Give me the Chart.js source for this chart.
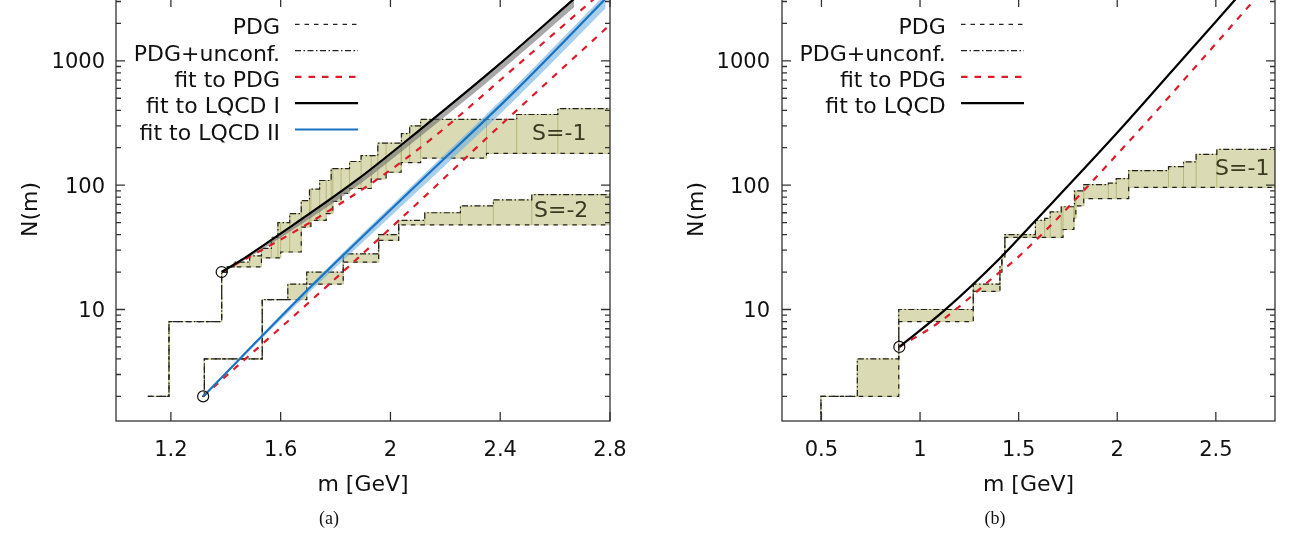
<!DOCTYPE html>
<html>
<head>
<meta charset="utf-8">
<title>N(m)</title>
<script src="https://cdn.jsdelivr.net/npm/chart.js@4.4.1/dist/chart.umd.min.js"></script>
<style>
  html, body { margin: 0; padding: 0; background: #fff; }
  body { position: relative; width: 1295px; height: 535px; overflow: hidden; }
  .panel { position: absolute; top: -27px; height: 562px; }
  #panelA { left: 0; width: 645px; }
  #panelB { left: 645px; width: 650px; }
  .caption { position: absolute; top: 508px; width: 60px; margin-left: -30px; text-align: center;
             font: 18px/20px "Liberation Serif", "DejaVu Serif", serif; color: #111; }
</style>
</head>
<body>
<div class="panel" id="panelA"><canvas id="chartA"></canvas></div>
<div class="panel" id="panelB"><canvas id="chartB"></canvas></div>
<div class="caption" style="left:329px">(a)</div>
<div class="caption" style="left:995px">(b)</div>
<script>
// values: mass [GeV] where the count steps up, and N(m) after the step

// (a) S=-1
const aS1PdgM = [1.116, 1.193, 1.385, 1.405, 1.53, 1.60, 1.675, 1.71, 1.766, 1.79, 1.82, 1.851, 1.93, 1.984, 2.039, 2.11, 2.35];
const aS1PdgN = [2, 8, 20, 22, 26, 29, 46, 52, 59, 74, 86, 94, 112, 127, 152, 165, 180];
const aS1AllM = [1.116, 1.193, 1.385, 1.405, 1.43, 1.487, 1.53, 1.566, 1.59, 1.633, 1.675, 1.705, 1.742, 1.784, 1.851, 1.893, 1.954, 2.04, 2.07, 2.11, 2.46, 2.61];
const aS1AllN = [2, 8, 20, 22, 24, 27, 31, 38, 50, 59, 75, 93, 109, 136, 155, 173, 218, 260, 300, 338, 370, 412];
// (a) S=-2
const aS2PdgM = [1.315, 1.322, 1.533, 1.695, 1.828, 1.957, 2.03];
const aS2PdgN = [2, 4, 12, 16, 24, 36, 48];
const aS2AllM = [1.315, 1.322, 1.533, 1.626, 1.695, 1.828, 1.957, 2.03, 2.125, 2.255, 2.375, 2.515];
const aS2AllN = [2, 4, 12, 16, 20, 28, 40, 52, 60, 68, 76, 84];

// (a) fits
const aFitS1M = [1.385, 1.669, 1.948, 2.154, 2.457, 2.742];
const aFitS1N = [20, 44.7, 110, 240, 900, 3150];
const aFitS2M = [1.3175, 1.766, 2.136, 2.348, 2.8];
const aFitS2N = [2, 15.2, 85.5, 236, 1950];
const aLqcd1M = [1.385, 1.475, 1.572, 1.875, 2.105, 2.384, 2.669];
const aLqcd1N = [20, 26.5, 37, 109, 276, 889, 3150];
const aLqcd1Lo = [20, 25.5, 34.5, 97, 243, 770, 2700];
const aLqcd1Hi = [20, 26.7, 37.4, 110, 279, 900, 3190];
const aLqcd2M = [1.3175, 1.693, 2.118, 2.45, 2.784];
const aLqcd2N = [2, 14, 112, 560, 3150];
const aLqcd2Lo = [2, 13, 98, 480, 2650];
const aLqcd2Hi = [2, 14.6, 120, 610, 3450];
const aStartM = [1.385, 1.3175];
const aStartN = [20, 2];

// (b) S=-1
const bPdgM = [0.4937, 0.4976, 0.892, 1.27, 1.405, 1.415, 1.43, 1.725, 1.78, 1.79, 1.83, 2.058];
const bPdgN = [1, 2, 8, 14, 20, 26, 38, 44, 54, 68, 78, 96];
const bAllM = [0.4937, 0.4976, 0.682, 0.892, 1.27, 1.405, 1.415, 1.43, 1.585, 1.632, 1.66, 1.716, 1.783, 1.83, 1.955, 1.995, 2.058, 2.26, 2.336, 2.40, 2.505];
const bAllN = [1, 2, 4, 10, 16, 22, 28, 40, 52, 54, 61, 67, 90, 101, 104, 113, 131, 141, 154, 177, 194];
const bFitM = [0.895, 1.10, 1.404, 1.49, 2.095, 2.398, 2.70];
const bFitN = [5, 7.95, 20, 25.7, 259, 900, 3150];
const bLqcdM = [0.895, 1.125, 1.404, 1.581, 1.995, 2.298, 2.602];
const bLqcdN = [5, 9.87, 25.7, 51, 259, 900, 3150];
const bStartM = [0.895];
const bStartN = [5];

// axes
const aXTicks = [1.2, 1.6, 2, 2.4, 2.8];
const bXTicks = [0.5, 1, 1.5, 2, 2.5];
const yTicks = [10, 100, 1000];

const FONT = 'DejaVu Sans';
const BAND = '#dadab4';
const RED = '#dd1c2a';
const BLUE = '#1a73c0';

function pts(ms, ns) {
    return ms.map((m, i) => ({ x: m, y: ns[i] }));
}

// corner points of a cumulative step curve, held flat to the end of the axis
function stepCorners(ms, ns, xEnd) {
    const out = [];
    ms.forEach((m, i) => {
        if (i > 0) out.push({ x: m, y: ns[i - 1] });
        out.push({ x: m, y: ns[i] });
    });
    out.push({ x: xEnd, y: ns[ns.length - 1] });
    return out;
}

function stepAt(ms, ns, x) {
    let v = ns[0];
    ms.forEach((m, i) => { if (m <= x) v = ns[i]; });
    return v;
}

function stepDatasets(loM, loN, hiM, hiN, xEnd) {
    const shape = stepCorners(hiM, hiN, xEnd).concat(stepCorners(loM, loN, xEnd).reverse());
    const xs = Array.from(new Set(loM.concat(hiM))).sort((a, b) => a - b);
    const seps = [];
    xs.forEach(x => {
        const lo = stepAt(loM, loN, x), hi = stepAt(hiM, hiN, x);
        if (hi > lo) seps.push({ x: x, y: lo }, { x: x, y: hi }, { x: x, y: null });
    });
    return [
        { label: 'band', data: shape, fill: 'shape', backgroundColor: BAND, borderColor: '#cbcb94',
          borderWidth: 1, pointRadius: 0, tension: 0, order: 30 },
        { label: 'sep', data: seps, borderColor: 'rgba(175,175,110,0.8)', borderWidth: 1,
          pointRadius: 0, spanGaps: false, order: 29 },
        { label: 'PDG', data: stepCorners(loM, loN, xEnd), borderColor: '#222', borderWidth: 1.2,
          borderDash: [4.5, 5], pointRadius: 0, order: 20 },
        { label: 'PDG+unconf.', data: stepCorners(hiM, hiN, xEnd), borderColor: '#222', borderWidth: 1.2,
          borderDash: [6, 2.5, 1.5, 2.5], pointRadius: 0, order: 19 }
    ];
}

function fitBand(ms, lo, hi, color) {
    return [
        { label: 'hi', data: pts(ms, hi), borderWidth: 0, pointRadius: 0, fill: false,
          cubicInterpolationMode: 'monotone', order: 12 },
        { label: 'lo', data: pts(ms, lo), borderWidth: 0, pointRadius: 0, fill: '-1',
          backgroundColor: color, cubicInterpolationMode: 'monotone', order: 12 }
    ];
}

function fitLine(label, ms, ns, color, dash) {
    return { label: label, data: pts(ms, ns), borderColor: color, borderWidth: 2.2, borderDash: dash || [],
             pointRadius: 0, cubicInterpolationMode: 'monotone', order: dash ? 8 : 6 };
}

function startCircles(ms, ns) {
    return { label: 'start', data: pts(ms, ns), showLine: false, pointRadius: 5.5, pointStyle: 'circle',
             pointBorderColor: '#111', pointBorderWidth: 1.2, pointBackgroundColor: 'rgba(0,0,0,0)', order: 1 };
}

// gnuplot style frame: border plus inward ticks on all four sides
const frameTicks = {
    id: 'frameTicks',
    afterDatasetsDraw(chart) {
        const { ctx, chartArea: a } = chart;
        const x = chart.scales.x, y = chart.scales.y;
        ctx.save();
        ctx.strokeStyle = '#333';
        ctx.lineWidth = 1.3;
        ctx.beginPath();
        x.ticks.forEach(t => {
            const px = x.getPixelForValue(t.value);
            ctx.moveTo(px, a.bottom); ctx.lineTo(px, a.bottom - 9);
            ctx.moveTo(px, a.top); ctx.lineTo(px, a.top + 9);
        });
        for (let d = 1; d < y.max; d *= 10) {
            for (let k = 1; k < 10; k++) {
                const v = k * d;
                if (v < y.min || v > y.max) continue;
                const len = k === 1 ? 9 : 5;
                const py = y.getPixelForValue(v);
                ctx.moveTo(a.left, py); ctx.lineTo(a.left + len, py);
                ctx.moveTo(a.right, py); ctx.lineTo(a.right - len, py);
            }
        }
        ctx.stroke();
        ctx.strokeRect(a.left, a.top, a.right - a.left, a.bottom - a.top);
        ctx.restore();
    }
};

// key with text on the left of the sample, and the S=... tags
const gpLegend = {
    id: 'gpLegend',
    afterDatasetsDraw(chart, args, opts) {
        const ctx = chart.ctx;
        ctx.save();
        ctx.font = '22px "' + FONT + '"';
        ctx.textBaseline = 'middle';
        opts.items.forEach((label, i) => {
            const ds = chart.data.datasets.find(d => d.label === label);
            const yy = opts.y + i * opts.dy;
            ctx.fillStyle = '#111';
            ctx.textAlign = 'right';
            ctx.fillText(label, opts.textX, yy);
            ctx.strokeStyle = ds.borderColor;
            ctx.lineWidth = ds.borderWidth;
            ctx.setLineDash(ds.borderDash || []);
            ctx.beginPath();
            ctx.moveTo(opts.x1, yy - 4.4);
            ctx.lineTo(opts.x2, yy - 4.4);
            ctx.stroke();
            ctx.setLineDash([]);
        });
        ctx.font = '22px "' + FONT + '"';
        ctx.fillStyle = '#3a3a22';
        ctx.textAlign = 'center';
        opts.tags.forEach(t => {
            ctx.fillText(t.text, chart.scales.x.getPixelForValue(t.m), chart.scales.y.getPixelForValue(t.n));
        });
        ctx.restore();
    }
};

function makeChart(id, cfg) {
    const tickFont = { family: FONT, size: 21 };
    const titleFont = { family: FONT, size: 22 };
    return new Chart(document.getElementById(id), {
        type: 'line',
        data: { datasets: cfg.datasets },
        plugins: [frameTicks, gpLegend],
        options: {
            responsive: true,
            maintainAspectRatio: false,
            animation: false,
            events: [],
            layout: { padding: { top: 25, right: cfg.padRight, bottom: 0, left: 0 } },
            plugins: {
                legend: { display: false },
                tooltip: { enabled: false },
                gpLegend: cfg.legend
            },
            scales: {
                x: {
                    type: 'linear',
                    min: cfg.xMin,
                    max: cfg.xMax,
                    afterBuildTicks: s => { s.ticks = cfg.xTicks.map(v => ({ value: v })); },
                    afterFit: s => { s.height = 114; },
                    grid: { display: false, drawTicks: false },
                    border: { display: false },
                    ticks: { font: tickFont, color: '#111', padding: 17, maxRotation: 0, autoSkip: false,
                             callback: v => String(v) },
                    title: { display: true, text: 'm [GeV]', font: titleFont, color: '#111',
                             padding: { top: 0, bottom: 37 } }
                },
                y: {
                    type: 'logarithmic',
                    min: 1.268,
                    max: 3200,
                    afterBuildTicks: s => { s.ticks = yTicks.map(v => ({ value: v })); },
                    afterFit: s => { s.width = cfg.axisW; },
                    grid: { display: false, drawTicks: false },
                    border: { display: false },
                    ticks: { font: tickFont, color: '#111', padding: cfg.yPad, labelOffset: 2,
                             callback: v => String(v) },
                    title: { display: true, text: 'N(m)', font: titleFont, color: '#111',
                             padding: { top: cfg.titlePad, bottom: 0 } }
                }
            }
        }
    });
}

document.addEventListener('DOMContentLoaded', function() {
    const aEnd = 2.8;
    makeChart('chartA', {
        xMin: 1.0, xMax: aEnd, xTicks: aXTicks, axisW: 116, padRight: 35, yPad: 11, titlePad: 18,
        datasets: [].concat(
            stepDatasets(aS1PdgM, aS1PdgN, aS1AllM, aS1AllN, aEnd),
            stepDatasets(aS2PdgM, aS2PdgN, aS2AllM, aS2AllN, aEnd),
            fitBand(aLqcd1M, aLqcd1Lo, aLqcd1Hi, 'rgba(110,110,110,0.6)'),
            fitBand(aLqcd2M, aLqcd2Lo, aLqcd2Hi, 'rgba(110,175,225,0.6)'),
            [
                fitLine('fit to PDG', aFitS1M, aFitS1N, RED, [6.5, 7]),
                fitLine('fit to PDG', aFitS2M, aFitS2N, RED, [6.5, 7]),
                fitLine('fit to LQCD I', aLqcd1M, aLqcd1N, '#000'),
                fitLine('fit to LQCD II', aLqcd2M, aLqcd2N, BLUE),
                startCircles(aStartM, aStartN)
            ]
        ),
        legend: {
            items: ['PDG', 'PDG+unconf.', 'fit to PDG', 'fit to LQCD I', 'fit to LQCD II'],
            textX: 280, x1: 295, x2: 358, y: 55.7, dy: 26.3,
            tags: [{ text: 'S=-1', m: 2.615, n: 256 }, { text: 'S=-2', m: 2.622, n: 61.6 }]
        }
    });

    const bEnd = 2.8;
    makeChart('chartB', {
        xMin: 0.3, xMax: bEnd, xTicks: bXTicks, axisW: 137, padRight: 20, yPad: 12, titlePad: 39,
        datasets: [].concat(
            stepDatasets(bPdgM, bPdgN, bAllM, bAllN, bEnd),
            [
                fitLine('fit to PDG', bFitM, bFitN, RED, [6.5, 7]),
                fitLine('fit to LQCD', bLqcdM, bLqcdN, '#000'),
                startCircles(bStartM, bStartN)
            ]
        ),
        legend: {
            items: ['PDG', 'PDG+unconf.', 'fit to PDG', 'fit to LQCD'],
            textX: 300.7, x1: 316, x2: 379, y: 55.7, dy: 26.3,
            tags: [{ text: 'S=-1', m: 2.634, n: 134 }]
        }
    });
});
</script>
</body>
</html>
